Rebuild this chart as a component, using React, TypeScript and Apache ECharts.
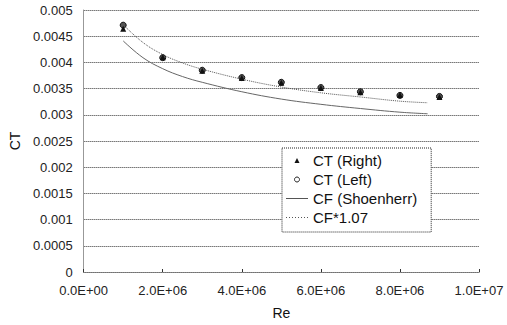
import React, { useEffect, useRef } from "react";
import * as echarts from "echarts";

// Measured points
const reMeasured = [1e6, 2e6, 3e6, 4e6, 5e6, 6e6, 7e6, 8e6, 9e6];
const ctRight = [0.00464, 0.0041, 0.00384, 0.0037, 0.00361, 0.00351, 0.00343, 0.00338, 0.00334];
const ctLeft = [0.00471, 0.00409, 0.00385, 0.00371, 0.00362, 0.00352, 0.00344, 0.00337, 0.00335];

// Friction lines
const reLine = [1e6, 1.5e6, 2e6, 2.5e6, 3e6, 4e6, 5e6, 6e6, 7e6, 8e6, 8.7e6];
const cfShoenherr = [0.00441, 0.00409, 0.00388, 0.00373, 0.00362, 0.00344, 0.0033, 0.0032, 0.00312, 0.00305, 0.00302];
const cfTimes107 = [0.00472, 0.00438, 0.00415, 0.00399, 0.00387, 0.00368, 0.00353, 0.00342, 0.00334, 0.00326, 0.00323];

const seriesNames = ["CT (Right)", "CT (Left)", "CF (Shoenherr)", "CF*1.07"];

const FONT = "'Liberation Sans', Arial, sans-serif";

const TRI_ICON = "path://M2,0L4,4L0,4Z";
const SOLID_ICON = "path://M0,0H22V1H0Z";
const DOTTED_ICON =
  "path://M0,0h1v1h-1z M3,0h1v1h-1z M6,0h1v1h-1z M9,0h1v1h-1z M12,0h1v1h-1z M15,0h1v1h-1z M18,0h1v1h-1z M21,0h1v1h-1z";

function fmtSci(v: number): string {
  if (v === 0) return "0.0E+00";
  const e = Math.floor(Math.log10(Math.abs(v)) + 1e-9);
  const m = v / Math.pow(10, e);
  const es = (e >= 0 ? "+" : "-") + String(Math.abs(e)).padStart(2, "0");
  return m.toFixed(1) + "E" + es;
}

function pairs(xs: number[], ys: number[]) {
  return xs.map((x, i) => [x, ys[i]]);
}

export default function App() {
  const ref = useRef<HTMLDivElement>(null);
  useEffect(() => {
    if (!ref.current) return;
    const chart = echarts.init(ref.current, undefined, { renderer: "svg" });
    chart.setOption({
      animation: false,
      backgroundColor: "#fff",
      textStyle: { fontFamily: FONT },
      grid: { left: 78, right: 28, top: 10, bottom: 53, containLabel: false },
      legend: {
        orient: "vertical",
        left: 282,
        top: 148,
        padding: [5, 14, 7, 4],
        itemGap: 4,
        itemWidth: 22,
        itemHeight: 5,
        backgroundColor: "#fff",
        borderColor: "#222",
        borderWidth: 1,
        borderType: "dotted",
        textStyle: { fontSize: 15, color: "#111", fontFamily: FONT },
        data: [
          { name: seriesNames[0], icon: TRI_ICON, itemStyle: { color: "#111" } },
          { name: seriesNames[1], icon: "circle", itemStyle: { color: "#fff", borderColor: "#222", borderWidth: 1 } },
          { name: seriesNames[2], icon: SOLID_ICON, itemStyle: { color: "#555" } },
          { name: seriesNames[3], icon: DOTTED_ICON, itemStyle: { color: "#555" } },
        ],
      },
      xAxis: [
        {
          type: "value",
          min: 0,
          max: 1e7,
          interval: 2e6,
          name: "Re",
          nameLocation: "middle",
          nameGap: 34,
          nameTextStyle: { fontSize: 14, color: "#111" },
          axisLine: { show: true, lineStyle: { color: "#333", width: 1 } },
          axisTick: { show: true, inside: true, length: 3, lineStyle: { color: "#333" } },
          axisLabel: { fontSize: 13, color: "#222", margin: 12, formatter: (v: number) => fmtSci(v) },
          splitLine: { show: false },
        },
        {
          type: "value",
          position: "top",
          min: 0,
          max: 1e7,
          interval: 2e6,
          axisLine: { show: true, lineStyle: { color: "#888", type: "dotted" } },
          axisTick: { show: false },
          axisLabel: { show: false },
          splitLine: { show: false },
        },
      ],
      yAxis: [
        {
          type: "value",
          min: 0,
          max: 0.005,
          interval: 0.0005,
          name: "CT",
          nameLocation: "middle",
          nameGap: 58,
          nameRotate: 90,
          nameTextStyle: { fontSize: 14, color: "#111" },
          axisLine: { show: true, lineStyle: { color: "#999", width: 1 } },
          axisTick: { show: false },
          axisLabel: { fontSize: 13, color: "#222", margin: 11, formatter: (v: number) => String(+v.toFixed(4)) },
          splitLine: { show: true, lineStyle: { color: "#333", type: "dotted", width: 1 } },
        },
        {
          type: "value",
          position: "right",
          min: 0,
          max: 0.005,
          interval: 0.0005,
          axisLine: { show: true, lineStyle: { color: "#999", type: "dotted" } },
          axisTick: { show: false },
          axisLabel: { show: false },
          splitLine: { show: false },
        },
      ],
      series: [
        {
          name: seriesNames[2],
          type: "line",
          data: pairs(reLine, cfShoenherr),
          smooth: 0.4,
          symbol: "none",
          lineStyle: { color: "#666", width: 1 },
          itemStyle: { color: "#666" },
          z: 2,
        },
        {
          name: seriesNames[3],
          type: "line",
          data: pairs(reLine, cfTimes107),
          smooth: 0.4,
          symbol: "none",
          lineStyle: { color: "#555", width: 1, type: "dotted" },
          itemStyle: { color: "#555" },
          z: 2,
        },
        {
          name: seriesNames[1],
          type: "scatter",
          data: pairs(reMeasured, ctLeft),
          symbol: "circle",
          symbolSize: 6,
          itemStyle: { color: "#555", borderColor: "#111", borderWidth: 1, opacity: 1 },
          z: 3,
        },
        {
          name: seriesNames[0],
          type: "scatter",
          data: pairs(reMeasured, ctRight),
          symbol: "triangle",
          symbolSize: 6,
          itemStyle: { color: "#111", opacity: 1 },
          z: 4,
        },
      ],
    });
    return () => chart.dispose();
  }, []);
  return <div ref={ref} style={{ width: 507, height: 325, position: "absolute", left: 0, top: 0 }} />;
}
